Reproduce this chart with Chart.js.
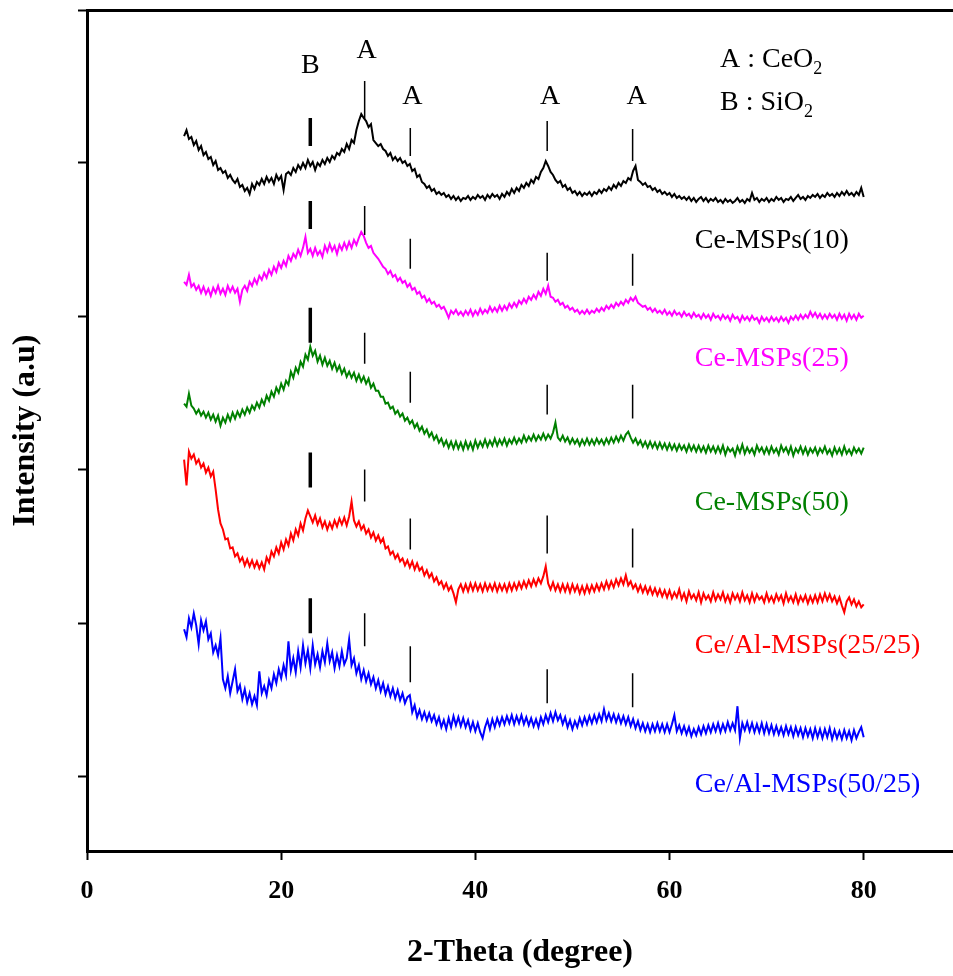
<!DOCTYPE html>
<html>
<head>
<meta charset="utf-8">
<script src="https://cdn.jsdelivr.net/npm/chart.js@4.4.1/dist/chart.umd.min.js"></script>
<style>
  html, body { margin: 0; padding: 0; background: #fff; }
  #wrap { width: 953px; height: 976px; }
</style>
</head>
<body>
<div id="wrap"><canvas id="xrd"></canvas></div>
<script>
// scan grid, 2-theta in degrees
const scanStart = 10, scanEnd = 80, scanStep = 0.25;
const twoTheta = [];
for (let t = scanStart; t <= scanEnd + 1e-9; t += scanStep) twoTheta.push(Math.round(t * 100) / 100);

// intensities (arbitrary units, traces stacked)
const ceMsp10 = [
  716,722,713,715,707,711,702,706,697,700,693,695,687,691,682,684,679,681,674,677,
  672,669,673,665,667,661,664,658,668,663,670,667,673,668,675,670,674,668,677,672,
  676,662,678,680,677,684,680,687,683,689,684,692,686,690,682,689,686,692,688,694,
  690,696,693,699,697,703,700,708,703,712,709,722,731,738,734,731,725,728,712,709,
  706,708,703,701,696,699,692,695,691,694,689,691,686,688,681,683,675,677,670,668,
  664,666,661,663,658,660,657,659,655,657,653,656,652,655,651,654,653,656,652,655,
  653,657,654,656,652,657,654,658,655,657,653,658,655,660,657,663,659,664,661,667,
  664,669,666,672,669,675,673,680,684,691,686,680,677,672,669,671,665,667,662,664,
  659,661,657,660,656,659,657,660,656,660,658,662,659,663,661,665,662,667,664,669,
  666,671,669,674,672,681,686,672,670,667,669,665,666,662,664,660,662,658,660,657,
  659,655,658,654,656,653,655,652,655,651,654,650,653,655,651,654,650,653,651,654,
  650,652,649,653,650,652,649,651,654,650,652,649,653,651,659,652,654,650,653,651,
  654,650,653,651,655,652,654,650,653,652,655,651,654,657,653,655,652,656,654,657,
  655,658,654,657,655,659,656,658,655,659,656,660,657,661,657,659,656,660,657,664,
  655
];
const ceMsp25 = [
  570,567,577,565,568,562,566,559,565,558,563,556,564,559,566,558,563,557,566,560,
  565,559,563,550,562,566,561,570,566,573,568,576,572,579,574,582,577,585,580,589,
  584,591,586,596,591,598,594,602,596,604,615,599,603,596,604,597,601,595,606,600,
  608,601,606,598,607,602,609,603,610,604,612,607,614,620,616,609,604,606,599,596,
  593,589,585,583,578,581,575,577,571,574,569,571,565,568,562,564,558,560,554,556,
  550,553,548,550,545,547,543,545,540,534,541,538,542,537,540,536,541,537,542,536,
  541,537,543,538,542,539,545,540,544,540,546,541,546,542,548,544,549,545,551,548,
  553,549,555,552,557,553,560,556,563,558,566,555,554,550,552,547,549,544,546,542,
  544,540,542,538,541,538,542,538,541,539,543,540,544,541,546,543,547,544,549,546,
  550,547,552,549,554,551,555,549,547,545,546,542,544,540,543,539,541,538,542,537,
  540,536,541,537,539,535,540,536,538,534,539,535,537,533,538,534,537,532,538,534,
  536,532,537,533,536,531,537,533,535,530,536,532,535,531,536,532,534,529,535,531,
  534,530,535,531,534,530,535,531,534,529,535,532,536,532,537,533,537,534,540,535,
  539,534,538,533,537,533,538,534,537,532,538,533,537,531,538,533,537,532,538,534,
  536
];
const ceMsp50 = [
  448,445,458,446,443,438,442,436,440,434,439,432,437,430,436,426,434,429,437,431,
  439,433,440,435,442,437,444,439,446,442,449,444,452,447,456,451,460,455,464,459,
  468,462,471,467,480,474,484,479,490,485,497,492,505,496,501,490,496,487,494,486,
  491,483,489,481,486,478,483,475,480,474,479,471,477,470,475,468,473,464,468,461,
  461,455,455,448,449,443,445,438,441,435,438,431,434,428,431,424,428,421,425,418,
  422,415,419,412,416,409,413,406,411,404,410,403,410,403,409,402,410,403,409,402,
  411,404,410,405,412,405,411,406,413,406,412,407,413,406,412,408,414,408,413,409,
  416,410,415,411,417,411,416,412,418,412,417,413,419,429,414,411,416,410,414,408,
  413,408,412,406,412,407,413,407,412,407,413,408,412,407,413,408,414,409,415,410,
  416,411,417,420,414,409,413,407,411,405,410,404,410,404,409,403,409,403,408,402,
  408,402,407,401,407,402,406,400,407,401,406,400,406,400,405,399,406,400,405,399,
  405,399,406,397,404,400,403,396,405,399,407,398,404,399,403,397,406,400,404,398,
  404,398,405,399,403,397,406,400,404,398,405,396,403,399,405,398,404,397,403,399,
  404,397,403,399,405,398,402,396,404,398,403,397,405,398,402,397,404,399,403,398,
  404
];
const ceAl2525 = [
  392,366,400,393,397,388,392,384,388,379,384,375,380,362,342,328,322,312,313,303,
  304,295,298,290,294,286,292,285,291,284,290,283,289,282,294,289,300,295,304,298,
  309,302,312,306,318,311,322,316,328,321,333,341,335,329,336,327,333,324,330,322,
  329,323,331,325,333,327,334,326,335,350,331,325,330,322,326,318,322,314,319,311,
  316,309,313,303,305,297,300,293,297,290,293,286,291,284,290,282,288,281,284,276,
  281,274,278,270,274,267,270,263,268,261,265,258,249,262,267,260,267,260,268,261,
  268,261,267,260,268,261,267,261,268,260,267,261,267,260,268,261,268,262,269,263,
  270,264,271,265,272,266,273,268,275,285,268,262,269,261,267,260,267,260,267,259,
  267,260,266,258,265,258,266,259,266,260,267,261,268,262,270,263,270,264,272,266,
  273,267,276,266,270,263,267,260,266,259,265,258,264,257,263,256,262,255,261,254,
  261,253,259,254,262,252,258,250,260,253,257,251,259,249,258,252,256,250,259,251,
  257,252,259,250,256,249,258,252,257,250,259,251,256,249,258,250,257,252,255,249,
  258,250,255,249,257,251,256,248,258,250,255,249,257,248,255,250,256,248,255,249,
  256,249,257,250,258,251,257,250,255,248,254,246,239,250,254,247,252,245,250,244,
  247
];
const ceAl5025 = [
  222,214,233,224,238,226,207,231,221,230,212,218,199,206,196,213,172,163,175,158,
  170,182,160,166,152,162,149,158,147,155,146,180,158,165,156,171,163,177,168,182,
  173,186,176,210,181,193,179,200,184,206,188,201,183,206,187,197,184,200,189,208,
  190,199,183,196,185,200,187,193,212,186,193,178,186,172,181,170,178,167,174,163,
  171,160,168,157,165,155,163,153,161,151,158,148,154,156,139,146,134,141,132,139,
  131,138,130,136,127,134,124,131,122,133,124,135,126,134,125,133,124,131,121,129,
  120,128,119,113,124,131,122,132,124,133,126,134,127,135,128,136,127,135,128,136,
  127,134,126,133,125,132,124,134,127,136,129,138,130,139,131,136,127,134,124,131,
  122,130,124,133,126,134,127,135,128,136,129,137,130,142,131,138,130,137,129,136,
  128,135,127,134,125,132,123,130,121,128,120,127,119,127,120,128,120,127,119,127,
  119,127,136,120,126,118,125,117,124,115,122,116,124,117,125,118,126,119,127,120,
  128,119,127,120,129,121,128,121,145,113,128,121,129,120,128,119,127,119,128,118,
  127,118,126,117,125,117,124,116,125,117,124,115,124,116,123,114,123,115,122,113,
  123,114,122,113,122,114,123,112,121,113,120,112,121,113,120,111,121,113,119,124,
  114
];

const seriesNames = ['Ce-MSPs(10)', 'Ce-MSPs(25)', 'Ce-MSPs(50)', 'Ce/Al-MSPs(25/25)', 'Ce/Al-MSPs(50/25)'];
const seriesColors = ['#000000', '#ff00ff', '#008000', '#ff0000', '#0000ff'];
const seriesData = [ceMsp10, ceMsp25, ceMsp50, ceAl2525, ceAl5025];
const nameAngle = 62.6;
const nameLevels = [611, 493, 349, 206, 66];

// reference peak positions (B = SiO2, A = CeO2) and the marker spans per trace
const peakLetters = ['B', 'A', 'A', 'A', 'A'];
const peakAngles = [23.0, 28.6, 33.3, 47.4, 56.2];
const letterAngles = [23.0, 28.8, 33.5, 47.7, 56.6];
const letterLevels = [786, 802, 755, 755, 755];
const markerTops = [
  [734, 771, 724, 731, 723],
  [651, 646, 613, 599, 598],
  [544, 519, 480, 467, 467],
  [399, 382, 333, 336, 323],
  [253, 238, 205, 182, 178]
];
const markerBottoms = [
  [706, 733, 696, 701, 691],
  [623, 617, 583, 571, 566],
  [509, 488, 449, 437, 433],
  [364, 350, 302, 298, 284],
  [218, 205, 169, 148, 144]
];
const keyTexts = ['A : CeO', 'B : SiO'];
const keyAngle = 65.2;
const keyLevels = [792, 749];

const xTickValues = [0, 20, 40, 60, 80];
const yTickValues = [75, 228, 382, 535, 689, 842];

const datasets = [];
seriesData.forEach((vals, i) => {
  datasets.push({
    label: seriesNames[i],
    data: twoTheta.map((t, j) => ({ x: t, y: vals[j] })),
    borderColor: seriesColors[i],
    borderWidth: 2,
    pointRadius: 0,
    tension: 0
  });
});
markerTops.forEach((tops, g) => {
  tops.forEach((top, p) => {
    datasets.push({
      label: 'marker',
      data: [{ x: peakAngles[p], y: top }, { x: peakAngles[p], y: markerBottoms[g][p] }],
      borderColor: '#000',
      borderWidth: p === 0 ? 3.5 : 1.5,
      pointRadius: 0
    });
  });
});

const textPlugin = {
  id: 'xrdText',
  afterDatasetsDraw(chart) {
    const { ctx, scales: { x, y } } = chart;
    ctx.save();
    ctx.textBaseline = 'middle';
    ctx.fillStyle = '#000';
    ctx.font = '28px "Liberation Serif"';
    ctx.textAlign = 'center';
    peakLetters.forEach((s, i) => {
      ctx.fillText(s, x.getPixelForValue(letterAngles[i]), y.getPixelForValue(letterLevels[i]));
    });
    ctx.textAlign = 'left';
    keyTexts.forEach((s, i) => {
      const px = x.getPixelForValue(keyAngle), py = y.getPixelForValue(keyLevels[i]);
      ctx.font = '28px "Liberation Serif"';
      ctx.fillText(s, px, py);
      const w = ctx.measureText(s).width;
      ctx.font = '18px "Liberation Serif"';
      ctx.fillText('2', px + w, py + 9);
    });
    ctx.font = '28px "Liberation Serif"';
    seriesNames.forEach((s, i) => {
      ctx.fillStyle = seriesColors[i];
      ctx.fillText(s, x.getPixelForValue(nameAngle), y.getPixelForValue(nameLevels[i]));
    });
    ctx.restore();
  }
};

Chart.defaults.font.family = '"Liberation Serif", "Times New Roman", serif';
Chart.defaults.color = '#000';

new Chart(document.getElementById('xrd'), {
  type: 'line',
  data: { datasets },
  options: {
    responsive: true,
    maintainAspectRatio: false,
    animation: false,
    layout: { padding: 0 },
    plugins: { legend: { display: false }, tooltip: { enabled: false } },
    scales: {
      x: {
        type: 'linear',
        position: 'bottom',
        min: 0,
        max: 89.2,
        afterBuildTicks: s => { s.ticks = xTickValues.map(v => ({ value: v })); },
        afterFit: s => { s.height = 125; },
        ticks: { font: { size: 26, weight: 'bold' }, padding: 16, maxRotation: 0 },
        grid: { drawOnChartArea: false, drawTicks: true, tickLength: 9, tickWidth: 2, tickColor: '#000' },
        border: { display: true, width: 3, color: '#000' },
        title: { display: true, text: '2-Theta (degree)', font: { size: 32, weight: 'bold' }, padding: { top: 0, bottom: 4 } }
      },
      x2: {
        type: 'linear',
        position: 'top',
        min: 0,
        max: 1,
        afterFit: s => { s.height = 9; },
        ticks: { display: false },
        grid: { display: false },
        border: { display: true, width: 3, color: '#000' }
      },
      y: {
        type: 'linear',
        min: 0,
        max: 842,
        afterBuildTicks: s => { s.ticks = yTickValues.map(v => ({ value: v })); },
        afterFit: s => { s.width = 87; },
        ticks: { callback: () => '' },
        grid: { drawOnChartArea: false, drawTicks: true, tickLength: 9, tickWidth: 2, tickColor: '#000' },
        border: { display: true, width: 3, color: '#000' },
        title: { display: true, text: 'Intensity (a.u)', font: { size: 32, weight: 'bold' }, padding: { top: 7, bottom: 0 } }
      }
    }
  },
  plugins: [textPlugin]
});
</script>
</body>
</html>
